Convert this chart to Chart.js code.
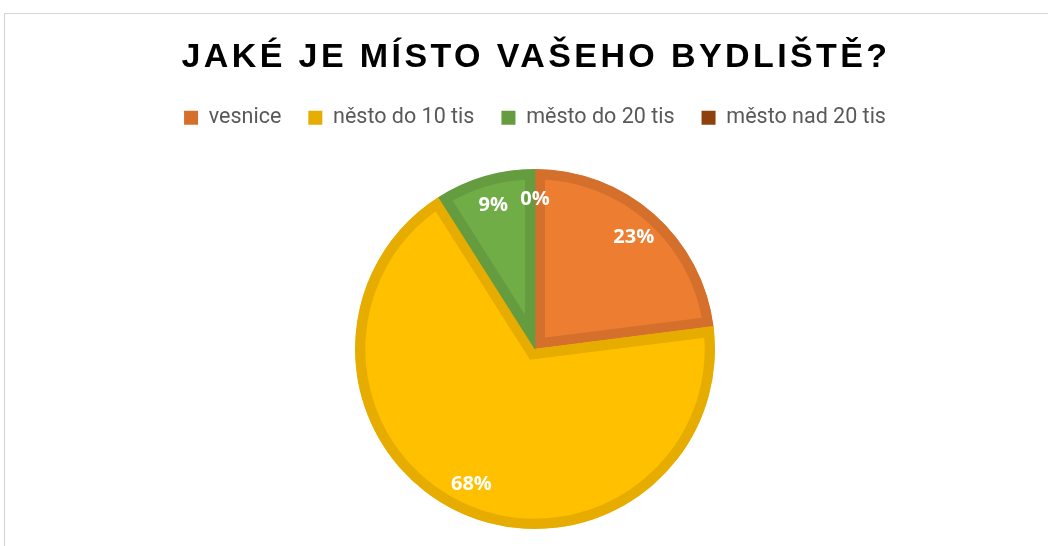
<!DOCTYPE html>
<html>
<head>
<meta charset="utf-8">
<title>Jaké je místo vašeho bydliště?</title>
<script src="https://cdn.jsdelivr.net/npm/chart.js@4.4.0/dist/chart.umd.min.js"></script>
<style>
    html, body { margin: 0; padding: 0; background: #ffffff; }
    #wrap { position: relative; width: 1048px; height: 546px; overflow: hidden; }
    #frame {
        position: absolute; left: 4px; top: 13px; width: 1200px; height: 700px;
        border-top: 1px solid #d4d4d4; border-left: 1px solid #d4d4d4;
    }
    #wrap canvas { position: absolute; left: 0; top: 0; }
</style>
</head>
<body>
<div id="wrap">
    <div id="frame"></div>
    <canvas id="placeChart"></canvas>
</div>
<script>
// Data z grafu (podíly v %)
const chartTitle = 'JAKÉ JE MÍSTO VAŠEHO BYDLIŠTĚ?';
const categories = ['vesnice', 'něsto do 10 tis', 'město do 20 tis', 'město nad 20 tis'];
const shares = [23, 68, 9, 0];
const fillColors = ['#ED7D31', '#FFC000', '#70AD47', '#9E480E'];
const edgeColors = ['#D5702C', '#E6AD00', '#659C40', '#8E410D'];

// Nadpis s prostrkáním písmen (vestavěný title to neumí)
const spacedTitle = {
    id: 'spacedTitle',
    afterDraw(chart) {
        const ctx = chart.ctx;
        ctx.save();
        ctx.font = 'bold 34px "Liberation Sans", Arial, sans-serif';
        ctx.letterSpacing = '3.4px';
        ctx.fillStyle = '#000000';
        ctx.textAlign = 'center';
        ctx.textBaseline = 'alphabetic';
        ctx.fillText(chartTitle, 536, 67);
        ctx.restore();
    }
};

// Popisky procent uvnitř výsečí
const sliceLabels = {
    id: 'sliceLabels',
    afterDatasetsDraw(chart) {
        const ctx = chart.ctx;
        const meta = chart.getDatasetMeta(0);
        ctx.save();
        ctx.font = 'bold 20px "Open Sans", sans-serif';
        ctx.fillStyle = '#ffffff';
        ctx.textAlign = 'center';
        ctx.textBaseline = 'middle';
        meta.data.forEach((arc, i) => {
            const p = arc.getProps(['x', 'y', 'startAngle', 'endAngle', 'outerRadius'], true);
            const mid = (p.startAngle + p.endAngle) / 2;
            const r = p.outerRadius * 0.83;
            ctx.fillText(shares[i] + '%', p.x + Math.cos(mid) * r, p.y + Math.sin(mid) * r);
        });
        ctx.restore();
    }
};

new Chart(document.getElementById('placeChart'), {
    type: 'pie',
    data: {
        labels: categories,
        datasets: [{
            data: shares,
            backgroundColor: fillColors,
            borderColor: edgeColors,
            borderWidth: 10,
            borderAlign: 'inner',
            borderJoinStyle: 'miter',
            radius: 180
        }]
    },
    options: {
        responsive: true,
        maintainAspectRatio: false,
        animation: false,
        events: [],
        layout: { padding: { top: 80, left: 22, right: 0, bottom: 0 } },
        plugins: {
            title: { display: false },
            // prázdný podtitul jen jako mezera mezi legendou a koláčem
            subtitle: {
                display: true,
                text: '',
                weight: 500,
                font: { size: 10, lineHeight: 1 },
                padding: { top: 3.5, bottom: 0 }
            },
            tooltip: { enabled: false },
            legend: {
                position: 'top',
                labels: {
                    boxWidth: 14,
                    boxHeight: 14,
                    padding: 27,
                    color: '#595959',
                    font: { family: 'Roboto', size: 21.5 },
                    generateLabels: (chart) => categories.map((name, i) => ({
                        text: name,
                        fillStyle: edgeColors[i],
                        strokeStyle: edgeColors[i],
                        lineWidth: 0,
                        fontColor: '#595959',
                        hidden: false,
                        index: i
                    }))
                }
            }
        }
    },
    plugins: [spacedTitle, sliceLabels]
});
</script>
</body>
</html>
